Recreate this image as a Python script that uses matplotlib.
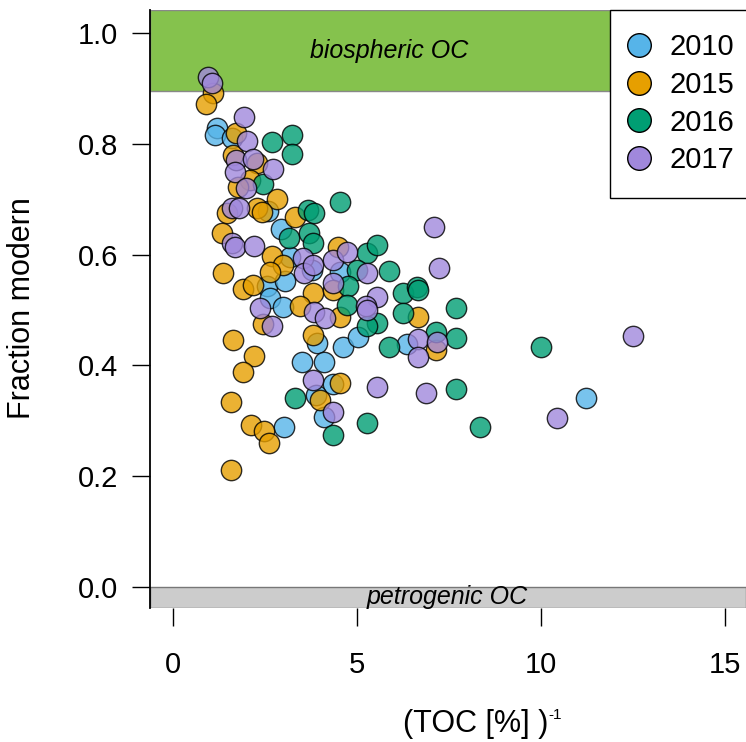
import matplotlib.pyplot as plt
from matplotlib.lines import Line2D

plt.rcParams['font.family'] = ['Liberation Sans', 'DejaVu Sans']

# inverse TOC (1/%) and fraction modern per sampling year
toc_inv_2010 = [1.20, 1.14, 1.60, 2.58, 2.93, 3.18, 3.78, 2.55, 3.04, 2.64, 2.99, 4.54,
                3.91, 4.62, 5.03, 3.51, 4.10, 4.35, 3.89, 4.10, 3.02, 6.36, 11.22]
fm_2010 = [0.829, 0.816, 0.810, 0.679, 0.646, 0.596, 0.572, 0.543, 0.552, 0.522, 0.505, 0.569,
           0.440, 0.433, 0.451, 0.406, 0.406, 0.366, 0.347, 0.307, 0.289, 0.439, 0.341]

toc_inv_2015 = [1.09, 0.90, 1.71, 1.63, 2.28, 2.09, 1.77, 2.83, 1.47, 2.28, 2.42, 3.32,
                1.33, 2.69, 2.99, 2.64, 1.36, 1.90, 2.17, 3.80, 4.35, 3.45, 4.48, 4.54,
                2.45, 3.80, 1.63, 2.20, 1.90, 4.54, 1.58, 3.99, 2.12, 2.47, 2.61, 1.58,
                6.66, 7.15]
fm_2015 = [0.892, 0.872, 0.819, 0.780, 0.765, 0.735, 0.722, 0.700, 0.675, 0.684, 0.677, 0.668,
           0.639, 0.597, 0.581, 0.569, 0.567, 0.538, 0.545, 0.531, 0.536, 0.507, 0.614, 0.487,
           0.475, 0.455, 0.446, 0.417, 0.388, 0.368, 0.334, 0.338, 0.292, 0.282, 0.260, 0.211,
           0.487, 0.428]

toc_inv_2016 = [2.69, 3.23, 3.23, 2.45, 4.54, 3.67, 3.83, 3.15, 3.70, 3.80, 5.27, 5.54,
                5.00, 5.87, 4.76, 4.73, 6.25, 6.63, 6.66, 6.25, 7.69, 5.54, 5.27, 5.87,
                7.15, 7.69, 10.00, 7.69, 3.32, 5.27, 4.35, 8.34]
fm_2016 = [0.803, 0.816, 0.782, 0.727, 0.695, 0.681, 0.675, 0.630, 0.639, 0.621, 0.603, 0.617,
           0.572, 0.570, 0.543, 0.509, 0.531, 0.542, 0.536, 0.495, 0.504, 0.477, 0.471, 0.433,
           0.460, 0.449, 0.433, 0.357, 0.341, 0.296, 0.274, 0.289]

toc_inv_2017 = [0.95, 1.06, 1.93, 2.01, 1.71, 2.17, 1.68, 2.72, 1.98, 1.60, 1.79, 1.60,
                1.68, 2.20, 3.53, 3.56, 3.80, 4.35, 4.73, 5.27, 4.35, 5.54, 5.24, 5.27,
                3.83, 4.13, 2.36, 2.69, 7.09, 7.23, 6.66, 6.66, 7.17, 12.50, 3.80, 5.54,
                6.87, 4.35, 10.43]
fm_2017 = [0.921, 0.910, 0.848, 0.805, 0.771, 0.773, 0.749, 0.755, 0.720, 0.684, 0.684, 0.621,
           0.614, 0.616, 0.594, 0.567, 0.581, 0.590, 0.605, 0.567, 0.549, 0.523, 0.507, 0.500,
           0.496, 0.486, 0.504, 0.471, 0.650, 0.576, 0.448, 0.415, 0.442, 0.453, 0.374, 0.361,
           0.350, 0.316, 0.305]

years = ['2010', '2015', '2016', '2017']
colors = ['#56B4E9', '#E69F00', '#009E73', '#A088DC']
xs = [toc_inv_2010, toc_inv_2015, toc_inv_2016, toc_inv_2017]
ys = [fm_2010, fm_2015, fm_2016, fm_2017]

xlim = (-0.625, 15.57)
ylim = (-0.038, 1.0415)

fig = plt.figure(figsize=(7.46, 7.42), dpi=100)
ax = fig.add_axes([150 / 746, 1 - 608 / 742, 1 - 150 / 746, 598 / 742])
ax.set_xlim(*xlim)
ax.set_ylim(*ylim)

# end-member bands
ax.axhspan(0.895, ylim[1], facecolor='#85C24D', edgecolor='#888888', lw=1, zorder=1)
ax.axhspan(ylim[0], 0.0, facecolor='#CCCCCC', edgecolor='#777777', lw=1, zorder=1)
ax.text(5.87, 0.968, 'biospheric OC', style='italic', fontsize=18,
        ha='center', va='center', zorder=2)
ax.text(7.45, -0.019, 'petrogenic OC', style='italic', fontsize=18,
        ha='center', va='center', zorder=2)

for x, y, c in zip(xs, ys, colors):
    ax.scatter(x, y, s=215, color=c, alpha=0.8, edgecolors='black',
               linewidths=1.0, zorder=3)

for side in ['top', 'right', 'bottom']:
    ax.spines[side].set_visible(False)
ax.spines['left'].set_linewidth(1.3)

ax.set_yticks([0.0, 0.2, 0.4, 0.6, 0.8, 1.0])
ax.set_yticklabels(['0.0', '0.2', '0.4', '0.6', '0.8', '1.0'])
ax.set_xticks([0, 5, 10, 15])
ax.tick_params(axis='y', length=13, width=1, pad=10, labelsize=21)
ax.tick_params(axis='x', length=13, width=1, pad=18, labelsize=21)

fig.text(22 / 746, 1 - 308 / 742, 'Fraction modern', fontsize=22, rotation=90,
         ha='center', va='center')
fig.text(476 / 746, 1 - 724 / 742, '(TOC [%] )', fontsize=22, ha='center', va='center')
fig.text(548 / 746, 1 - 715 / 742, '-1', fontsize=11, ha='left', va='center')

handles = [Line2D([], [], marker='o', ls='', markersize=17, markerfacecolor=c,
                  markeredgecolor='black', markeredgewidth=1.0) for c in colors]
leg = ax.legend(handles, years, loc='upper left', bbox_to_anchor=((610 - 150) / 596, 1.0),
                fontsize=21, frameon=True, fancybox=False, framealpha=1, borderaxespad=0,
                borderpad=0.8, labelspacing=0.33, handlelength=0.4, handletextpad=0.85)
leg.get_frame().set_edgecolor('black')
leg.get_frame().set_facecolor('white')
leg.get_frame().set_linewidth(1.0)
leg.set_zorder(5)

fig.savefig('out.png', dpi=100)
